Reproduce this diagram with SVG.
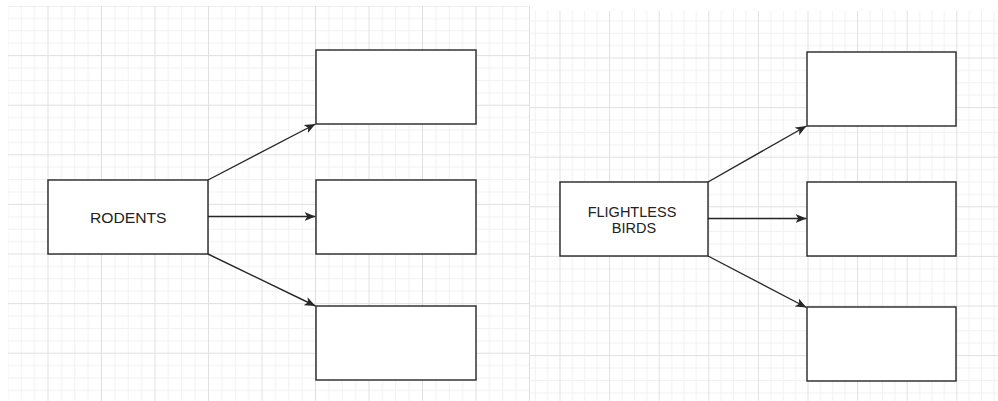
<svg xmlns="http://www.w3.org/2000/svg" width="998" height="401" viewBox="0 0 998 401">
<style>
.box{fill:#ffffff;stroke:#262626;stroke-width:1.4}
.edge{fill:none;stroke:#262626;stroke-width:1.4}
.lbl{font-family:"Liberation Sans",Arial,sans-serif;fill:#222222;text-anchor:middle}
.mn{stroke:#f1f1f1;stroke-width:1}
.mj{stroke:#e0e0e0;stroke-width:1}
</style>
<defs>
<pattern id="gridL" patternUnits="userSpaceOnUse" x="47.5" y="5.5" width="53.5" height="49.6">
<path class="mn" d="M13.9,0V49.6M27.25,0V49.6M40.6,0V49.6M0,12.9H53.5M0,25.3H53.5M0,37.7H53.5"/>
<path class="mj" d="M0.5,0V49.6M0,0.5H53.5"/>
</pattern>
<pattern id="gridR" patternUnits="userSpaceOnUse" x="559.5" y="57.5" width="49.6" height="49.6">
<path class="mn" d="M12.9,0V49.6M25.3,0V49.6M37.7,0V49.6M0,12.9H49.6M0,25.3H49.6M0,37.7H49.6"/>
<path class="mj" d="M0.5,0V49.6M0,0.5H49.6"/>
</pattern>
<marker id="arr" markerUnits="userSpaceOnUse" markerWidth="12" markerHeight="10" refX="11" refY="5" orient="auto">
<path d="M0,0.5 L11,5 L0,9.5 L2.8,5 Z" fill="#262626"/>
</marker>
</defs>
<rect x="0" y="0" width="998" height="401" fill="#ffffff"/>
<rect x="8" y="6" width="522" height="395" fill="url(#gridL)"/>
<rect x="530" y="11" width="468" height="390" fill="url(#gridR)"/>
<g id="connectors">
<path class="edge" marker-end="url(#arr)" d="M208,180 L315.5,124"/>
<path class="edge" marker-end="url(#arr)" d="M208,216.5 L315.5,216.5"/>
<path class="edge" marker-end="url(#arr)" d="M208,254 L315.5,306"/>
<path class="edge" marker-end="url(#arr)" d="M708,182 L806.5,126"/>
<path class="edge" marker-end="url(#arr)" d="M708,218.5 L806.5,218.5"/>
<path class="edge" marker-end="url(#arr)" d="M708,256 L806.5,307.5"/>
</g>
<g id="rodents">
<rect class="box" x="48" y="180" width="160" height="74"/>
<text class="lbl" font-size="14.5" transform="translate(128.3,222.5) scale(1.08,1)">RODENTS</text>
</g>
<g id="rodents-top"><rect class="box" x="316" y="50" width="160" height="74"/></g>
<g id="rodents-mid"><rect class="box" x="316" y="180" width="160" height="74"/></g>
<g id="rodents-bot"><rect class="box" x="316" y="306" width="160" height="74"/></g>
<g id="flightless">
<rect class="box" x="560" y="182" width="148" height="74"/>
<text class="lbl" font-size="14.5" x="632" y="216.7">FLIGHTLESS</text>
<text class="lbl" font-size="14.5" x="634" y="233.3">BIRDS</text>
</g>
<g id="birds-top"><rect class="box" x="807" y="52" width="149" height="74"/></g>
<g id="birds-mid"><rect class="box" x="807" y="182" width="149" height="74"/></g>
<g id="birds-bot"><rect class="box" x="807" y="307" width="149" height="74"/></g>
</svg>
